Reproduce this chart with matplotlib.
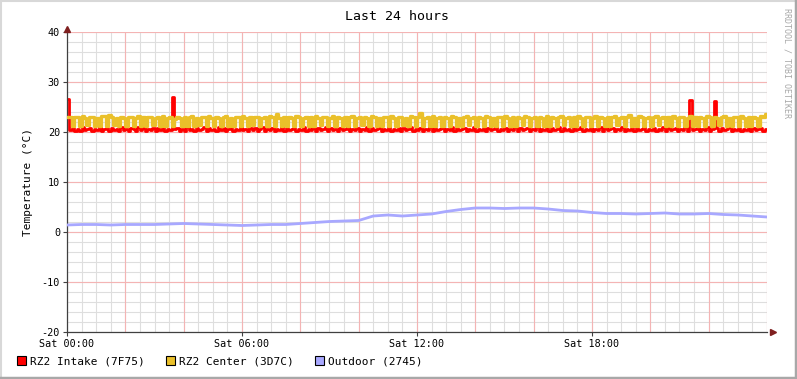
"""
RRDtool-style 24 hour temperature graph.
"""

import numpy as np
import matplotlib.pyplot as plt
from matplotlib.patches import Rectangle
from matplotlib.lines import Line2D

# keep every sample step visible
plt.rcParams["path.simplify"] = False

# 5-minute samples, 00:00 .. 24:00 (one row per hour)
intake = [
    26.6, 20.5, 20.9, 20.3, 20.7, 20.2, 21.0, 20.4, 20.6, 20.9, 20.2, 20.7,
    20.4, 21.0, 20.3, 20.6, 20.8, 20.2, 20.9, 20.5, 20.7, 20.3, 21.0, 20.4,
    20.7, 20.2, 20.9, 20.6, 20.3, 21.0, 20.4, 20.8, 20.2, 20.7, 20.5, 20.9,
    20.3, 20.8, 20.5, 21.0, 20.2, 20.7, 20.4, 27.0, 20.6, 20.9, 20.3, 20.7,
    20.2, 21.0, 20.5, 20.7, 20.3, 20.9, 20.4, 20.6, 21.0, 20.2, 20.8, 20.5,
    20.7, 20.3, 21.0, 20.4, 20.8, 20.2, 20.6, 20.9, 20.3, 20.7, 20.5, 21.0,
    20.4, 20.7, 20.2, 20.9, 20.5, 20.8, 20.3, 20.6, 21.0, 20.2, 20.7, 20.4,
    20.9, 20.3, 20.7, 20.5, 21.0, 20.2, 20.8, 20.4, 20.6, 20.9, 20.3, 20.7,
    20.5, 21.0, 20.2, 20.7, 20.4, 20.9, 20.3, 20.8, 20.5, 20.6, 21.0, 20.2,
    20.8, 20.4, 20.7, 20.3, 20.9, 20.5, 20.6, 21.0, 20.2, 20.7, 20.4, 20.9,
    20.3, 20.7, 20.5, 21.0, 20.2, 20.8, 20.4, 20.6, 20.9, 20.3, 20.7, 20.5,
    21.0, 20.2, 20.7, 20.4, 20.9, 20.3, 20.8, 20.5, 20.6, 21.0, 20.2, 20.7,
    20.4, 20.9, 20.3, 20.7, 20.5, 21.0, 20.2, 20.8, 20.4, 20.6, 20.9, 20.3,
    20.7, 20.5, 21.0, 20.2, 20.8, 20.4, 20.6, 20.9, 20.3, 20.7, 20.5, 21.0,
    20.2, 20.7, 20.4, 20.9, 20.3, 20.8, 20.5, 20.6, 21.0, 20.2, 20.7, 20.4,
    20.9, 20.3, 20.7, 20.5, 21.0, 20.2, 20.8, 20.4, 20.6, 20.9, 20.3, 20.7,
    20.5, 21.0, 20.2, 20.7, 20.4, 20.9, 20.3, 20.8, 20.5, 20.6, 21.0, 20.2,
    20.8, 20.4, 20.7, 20.3, 20.9, 20.5, 20.6, 21.0, 20.2, 20.7, 20.4, 20.9,
    20.3, 20.7, 20.5, 21.0, 20.2, 20.8, 20.4, 20.6, 20.9, 20.3, 20.7, 20.5,
    21.0, 20.2, 20.7, 20.4, 20.9, 20.3, 20.8, 20.5, 20.6, 21.0, 20.2, 20.7,
    20.4, 20.9, 20.3, 20.7, 20.5, 21.0, 20.2, 20.8, 20.4, 20.6, 20.9, 20.3,
    20.7, 20.5, 21.0, 20.2, 26.4, 20.4, 20.6, 20.9, 20.3, 20.7, 20.5, 21.0,
    20.2, 20.7, 26.2, 20.9, 20.3, 20.8, 20.5, 20.6, 21.0, 20.2, 20.7, 20.4,
    20.9, 20.3, 20.7, 20.5, 21.0, 20.2, 20.8, 20.4, 20.6, 20.9, 20.3, 20.7,
    20.7,
]
center = [
    23.0, 23.0, 21.3, 23.1, 23.1, 21.2, 23.2, 22.8, 21.4, 23.1, 23.0, 21.2,
    22.8, 21.3, 23.2, 23.2, 21.2, 23.4, 23.0, 21.4, 22.9, 21.2, 23.1, 22.8,
    21.3, 23.0, 23.1, 21.2, 22.8, 23.2, 21.3, 23.0, 21.2, 23.1, 23.1, 21.4,
    22.9, 23.0, 21.2, 23.2, 21.3, 22.8, 23.1, 21.2, 22.7, 23.0, 22.9, 21.2,
    23.1, 21.3, 23.0, 23.2, 21.2, 22.9, 21.4, 23.1, 23.0, 21.2, 23.2, 22.8,
    21.3, 23.1, 22.9, 21.2, 23.0, 23.2, 21.3, 22.8, 21.2, 23.1, 23.0, 21.3,
    23.2, 22.9, 21.2, 23.0, 21.4, 23.1, 23.1, 21.2, 22.8, 23.0, 21.3, 23.2,
    23.0, 21.2, 23.6, 22.9, 21.3, 23.1, 21.2, 23.0, 22.8, 21.3, 23.2, 23.0,
    21.2, 22.9, 23.1, 21.3, 23.0, 21.2, 23.2, 22.9, 21.4, 23.0, 23.1, 21.2,
    22.8, 23.2, 21.3, 23.0, 22.9, 21.2, 23.1, 21.3, 23.0, 23.2, 21.2, 22.9,
    23.1, 21.4, 23.0, 22.8, 21.2, 23.2, 23.1, 21.3, 22.9, 21.2, 23.0, 23.1,
    21.3, 23.2, 22.9, 21.2, 23.0, 23.1, 21.4, 22.8, 21.2, 23.2, 23.0, 21.3,
    23.1, 23.8, 21.2, 22.9, 23.0, 21.3, 23.2, 21.2, 22.8, 23.1, 21.3, 23.0,
    22.9, 21.2, 23.2, 23.0, 21.3, 22.8, 21.2, 23.1, 23.2, 21.4, 22.9, 23.0,
    21.2, 23.1, 22.8, 21.3, 23.2, 23.0, 21.2, 22.9, 21.3, 23.1, 23.0, 21.2,
    23.2, 22.9, 21.3, 23.0, 21.2, 23.1, 22.8, 21.4, 23.2, 23.0, 21.2, 22.9,
    23.0, 21.3, 23.1, 22.9, 21.2, 23.2, 21.3, 23.0, 22.8, 21.2, 23.1, 23.2,
    21.4, 22.9, 23.0, 21.2, 23.1, 21.3, 23.2, 22.8, 21.2, 23.0, 23.1, 21.3,
    22.9, 23.2, 21.2, 23.0, 22.8, 21.3, 23.1, 21.2, 23.0, 23.2, 21.4, 22.9,
    23.1, 21.2, 23.0, 23.4, 21.3, 22.9, 21.2, 23.2, 23.0, 21.3, 22.8, 23.1,
    21.2, 23.0, 23.2, 21.4, 22.9, 23.1, 21.2, 23.0, 21.3, 23.2, 22.9, 21.2,
    23.1, 23.0, 21.3, 22.8, 23.2, 21.2, 23.0, 21.3, 23.1, 22.9, 21.2, 23.2,
    23.0, 21.2, 23.1, 22.9, 21.4, 23.0, 23.2, 21.2, 22.8, 21.3, 23.1, 23.0,
    21.2, 23.2, 22.9, 21.3, 23.0, 21.2, 23.1, 22.8, 21.3, 23.2, 23.0, 23.6,
    23.6,
]
# 30-minute samples, 00:00 .. 24:00
outdoor = [
    1.4, 1.5, 1.5, 1.4, 1.5, 1.5, 1.5, 1.6, 1.7, 1.6, 1.5, 1.4,
    1.3, 1.4, 1.5, 1.5, 1.7, 1.9, 2.1, 2.2, 2.3, 3.2, 3.4, 3.2,
    3.4, 3.6, 4.1, 4.5, 4.8, 4.8, 4.7, 4.8, 4.8, 4.6, 4.3, 4.2,
    3.9, 3.7, 3.7, 3.6, 3.7, 3.8, 3.6, 3.6, 3.7, 3.5, 3.4, 3.2,
    3.0,
]
series_names = ["RZ2 Intake (7F75)", "RZ2 Center (3D7C)", "Outdoor (2745)"]
series_colors = ["#FF0000", "#EAC02A", "#A8A8FF"]
x_labels = ["Sat 00:00", "Sat 06:00", "Sat 12:00", "Sat 18:00"]

t_fine = np.arange(len(intake)) / 12.0
t_out = np.arange(len(outdoor)) / 2.0

mono = "DejaVu Sans Mono"
W, H = 797, 379

fig = plt.figure(figsize=(W / 100, H / 100), dpi=100)
fig.patch.set_facecolor("white")
ax = fig.add_axes([67 / W, 47 / H, 700 / W, 300 / H])

# grid: grey every 30 min / 2 deg, red every 2 h / 10 deg
for h in np.arange(0, 24.01, 0.5):
    ax.axvline(h, color="#DEDEDE", lw=0.8, zorder=0)
for v in np.arange(-20, 40.01, 2):
    ax.axhline(v, color="#DEDEDE", lw=0.8, zorder=0)
for h in np.arange(2, 24.01, 2):
    ax.axvline(h, color="#F4B4B4", lw=0.8, zorder=0.5)
for v in np.arange(-10, 40.01, 10):
    ax.axhline(v, color="#F4B4B4", lw=0.8, zorder=0.5)

ax.plot(t_fine, intake, drawstyle="steps-post", color=series_colors[0], lw=2.0, zorder=2)
ax.plot(t_fine, center, drawstyle="steps-post", color=series_colors[1], lw=2.4, zorder=3)
ax.plot(t_out, outdoor, color=series_colors[2], lw=2, zorder=4)

ax.set_xlim(0, 24)
ax.set_ylim(-20, 40)
ax.set_xticks([0, 6, 12, 18])
ax.set_xticklabels(x_labels, family=mono, fontsize=7.3)
ax.set_yticks(np.arange(-20, 41, 10))
ax.set_yticklabels([str(v) for v in range(-20, 41, 10)], family=mono, fontsize=7.3)
ax.tick_params(length=3, width=0.8, color="#404040", pad=2)
for side in ["top", "right"]:
    ax.spines[side].set_visible(False)
for side in ["left", "bottom"]:
    ax.spines[side].set_color("#404040")
    ax.spines[side].set_linewidth(0.9)
ax.set_ylabel("Temperature (°C)", family=mono, fontsize=8, labelpad=6)

# arrows at axis ends
ax.plot([0], [40.6], marker="^", color="#7F1F1F", ms=4, clip_on=False, zorder=6)
ax.plot([24.2], [-20], marker=">", color="#7F1F1F", ms=4, clip_on=False, zorder=6)

fig.text(397 / W, 1 - 16 / H, "Last 24 hours", family=mono, fontsize=9.5,
         ha="center", va="center")
fig.text(787 / W, 1 - 8 / H, "RRDTOOL / TOBI OETIKER", family=mono, fontsize=6,
         color="#A8A8A8", rotation=270, ha="center", va="top")

# legend
legend_x = [17, 166, 315]
for lx, name, col in zip(legend_x, series_names, series_colors):
    fig.patches.append(Rectangle((lx / W, 1 - 365 / H), 9 / W, 9 / H,
                                 transform=fig.transFigure, facecolor=col,
                                 edgecolor="black", lw=0.8))
    fig.text((lx + 13) / W, 1 - 361 / H, name, family=mono, fontsize=8,
             ha="left", va="center")

# 3D frame
fig.add_artist(Line2D([0, 1], [1 - 0.5 / H, 1 - 0.5 / H], color="#D8D8D8", lw=1.5,
                      transform=fig.transFigure))
fig.add_artist(Line2D([0.5 / W, 0.5 / W], [0, 1], color="#D8D8D8", lw=1.5,
                      transform=fig.transFigure))
fig.add_artist(Line2D([0, 1], [1 / H, 1 / H], color="#A8A8A8", lw=2.5,
                      transform=fig.transFigure))
fig.add_artist(Line2D([1 - 1 / W, 1 - 1 / W], [0, 1], color="#A8A8A8", lw=2.5,
                      transform=fig.transFigure))

fig.savefig("out.png", dpi=100)
